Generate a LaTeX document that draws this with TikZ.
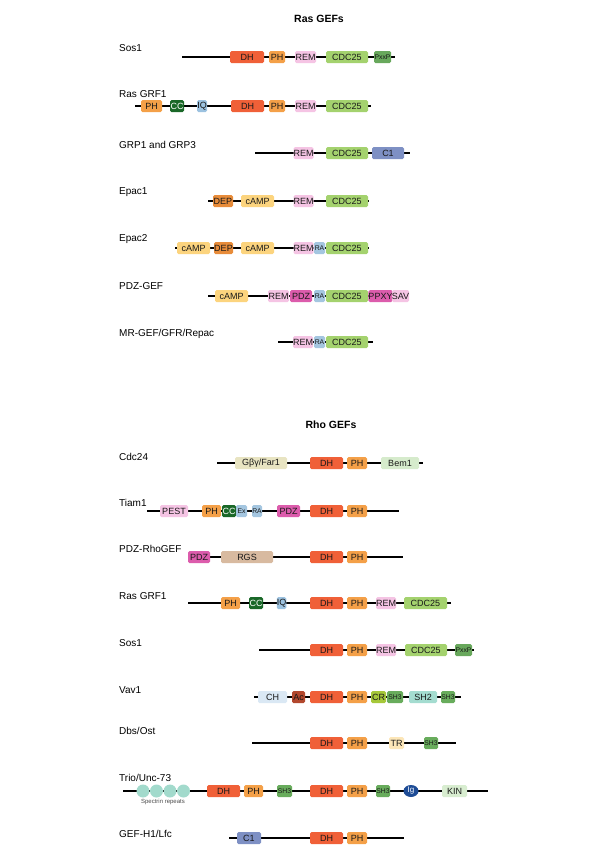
\documentclass[tikz,border=0pt]{standalone}
\usepackage{fontspec}
\setmainfont{Liberation Sans}
\usetikzlibrary{shapes.geometric}
\definecolor{cDH}{RGB}{240,96,56}
\definecolor{cPH}{RGB}{244,160,72}
\definecolor{cREM}{RGB}{245,196,228}
\definecolor{cCDC}{RGB}{164,210,110}
\definecolor{cPxxP}{RGB}{104,168,92}
\definecolor{cCC}{RGB}{26,104,40}
\definecolor{cIQ}{RGB}{156,194,224}
\definecolor{cC1}{RGB}{126,144,196}
\definecolor{cDEP}{RGB}{232,140,58}
\definecolor{cAMP}{RGB}{252,212,126}
\definecolor{cRA}{RGB}{164,198,224}
\definecolor{cPDZ}{RGB}{220,92,172}
\definecolor{cGby}{RGB}{232,228,194}
\definecolor{cBem}{RGB}{214,235,204}
\definecolor{cRGS}{RGB}{216,186,160}
\definecolor{cCH}{RGB}{218,232,244}
\definecolor{cAc}{RGB}{178,72,46}
\definecolor{cCR}{RGB}{166,200,58}
\definecolor{cSH}{RGB}{104,172,92}
\definecolor{cSHt}{RGB}{164,220,208}
\definecolor{cTR}{RGB}{252,230,184}
\definecolor{cIg}{RGB}{30,76,150}
\definecolor{cKIN}{RGB}{216,237,208}
\definecolor{cSpec}{RGB}{162,218,204}
\tikzset{
  dombox/.style={rectangle, rounded corners=1.5pt, inner sep=0pt, minimum height=12pt,
    font=\fontsize{9}{10}\selectfont, text=black!90},
  sm/.style={font=\fontsize{6.8}{7}\selectfont},
  wt/.style={text=white},
  backbone/.style={line width=1.1pt, black},
  glabel/.style={anchor=west, font=\fontsize{10}{12}\selectfont, inner sep=0pt},
  ttl/.style={font=\bfseries\fontsize{10.5}{12}\selectfont, inner sep=0pt},
  specbead/.style={circle, fill=cSpec, minimum size=13pt, inner sep=0pt}
}
% name, x1, x2, y, colour, extra style, text
\newcommand\dm[7]{\node[dombox,fill=#5,minimum width={(#3-#2)*1pt},#6] (#1) at ({(#2+#3)/2},#4) {#7};}
\newcommand\bb[4]{\coordinate (#1s) at (#2,#4); \coordinate (#1e) at (#3,#4); \draw[backbone] (#1s) -- (#1e);}
\begin{document}
\begin{tikzpicture}[x=1pt,y=-1pt]
\fill[white] (0,0) rectangle (600,860);
\useasboundingbox (0,0) rectangle (600,860);

\node[ttl] (t1) at (319,19) {Ras GEFs};

% Sos1
\node[glabel] (l1) at (119,48) {Sos1};
\bb{r1}{182}{395}{57}
\dm{r1a}{230}{264}{57}{cDH}{}{DH}
\dm{r1b}{269}{285}{57}{cPH}{}{PH}
\dm{r1c}{295}{316}{57}{cREM}{}{REM}
\dm{r1d}{326}{368}{57}{cCDC}{}{CDC25}
\dm{r1f}{374}{391}{57}{cPxxP}{sm}{PxxP}

% Ras GRF1
\node[glabel] (l2) at (119,94) {Ras GRF1};
\bb{r2}{135}{371}{106}
\dm{r2a}{141}{162}{106}{cPH}{}{PH}
\dm{r2b}{170}{184}{106}{cCC}{wt}{CC}
\dm{r2c}{197}{207}{106}{cIQ}{}{IQ}
\dm{r2d}{231}{264}{106}{cDH}{}{DH}
\dm{r2f}{269}{285}{106}{cPH}{}{PH}
\dm{r2g}{295}{316}{106}{cREM}{}{REM}
\dm{r2h}{326}{368}{106}{cCDC}{}{CDC25}

% GRP1 and GRP3
\node[glabel] (l3) at (119,145) {GRP1 and GRP3};
\bb{r3}{255}{410}{153}
\dm{r3a}{294}{313}{153}{cREM}{}{REM}
\dm{r3b}{326}{368}{153}{cCDC}{}{CDC25}
\dm{r3c}{372}{404}{153}{cC1}{}{C1}

% Epac1
\node[glabel] (l4) at (119,192) {Epac1};
\bb{r4}{208}{369}{201}
\dm{r4a}{213}{233}{201}{cDEP}{}{DEP}
\dm{r4b}{241}{274}{201}{cAMP}{}{cAMP}
\dm{r4c}{294}{313}{201}{cREM}{}{REM}
\dm{r4d}{326}{368}{201}{cCDC}{}{CDC25}

% Epac2
\node[glabel] (l5) at (119,239) {Epac2};
\bb{r5}{175}{369}{248}
\dm{r5a}{177}{210}{248}{cAMP}{}{cAMP}
\dm{r5b}{214}{233}{248}{cDEP}{}{DEP}
\dm{r5c}{241}{274}{248}{cAMP}{}{cAMP}
\dm{r5d}{294}{313}{248}{cREM}{}{REM}
\dm{r5f}{314}{325}{248}{cRA}{sm}{RA}
\dm{r5g}{326}{368}{248}{cCDC}{}{CDC25}

% PDZ-GEF
\node[glabel] (l6) at (119,286) {PDZ-GEF};
\bb{r6}{208}{392}{296}
\dm{r6a}{215}{248}{296}{cAMP}{}{cAMP}
\dm{r6b}{268}{289}{296}{cREM}{}{REM}
\dm{r6c}{290}{312}{296}{cPDZ}{}{PDZ}
\dm{r6d}{314}{325}{296}{cRA}{sm}{RA}
\dm{r6f}{326}{368}{296}{cCDC}{}{CDC25}
\dm{r6g}{369}{392}{296}{cPDZ}{}{PPXY}
\dm{r6h}{392}{409}{296}{cREM}{}{SAV}

% MR-GEF/GFR/Repac
\node[glabel] (l7) at (119,334) {MR-GEF/GFR/Repac};
\bb{r7}{278}{373}{342}
\dm{r7a}{293}{313}{342}{cREM}{}{REM}
\dm{r7b}{314}{325}{342}{cRA}{sm}{RA}
\dm{r7c}{326}{368}{342}{cCDC}{}{CDC25}

\node[ttl] (t2) at (331,425) {Rho GEFs};

% Cdc24
\node[glabel] (l8) at (119,457) {Cdc24};
\bb{r8}{217}{423}{463}
\dm{r8a}{235}{287}{463}{cGby}{}{Gβγ/Far1}
\dm{r8b}{310}{343}{463}{cDH}{}{DH}
\dm{r8c}{347}{367}{463}{cPH}{}{PH}
\dm{r8d}{381}{419}{463}{cBem}{}{Bem1}

% Tiam1
\node[glabel] (l9) at (119,503) {Tiam1};
\bb{r9}{147}{399}{511}
\dm{r9a}{160}{188}{511}{cREM}{}{PEST}
\dm{r9b}{202}{221}{511}{cPH}{}{PH}
\dm{r9c}{222}{236}{511}{cCC}{wt}{CC}
\dm{r9d}{236}{247}{511}{cRA}{sm}{Ex}
\dm{r9f}{252}{262}{511}{cRA}{sm}{RA}
\dm{r9g}{277}{300}{511}{cPDZ}{}{PDZ}
\dm{r9h}{310}{343}{511}{cDH}{}{DH}
\dm{r9i}{347}{367}{511}{cPH}{}{PH}

% PDZ-RhoGEF
\node[glabel] (l10) at (119,549) {PDZ-RhoGEF};
\bb{r10}{188}{403}{557}
\dm{r10a}{188}{210}{557}{cPDZ}{}{PDZ}
\dm{r10b}{221}{273}{557}{cRGS}{}{RGS}
\dm{r10c}{310}{343}{557}{cDH}{}{DH}
\dm{r10d}{347}{367}{557}{cPH}{}{PH}

% Ras GRF1 (Rho)
\node[glabel] (l11) at (119,596) {Ras GRF1};
\bb{r11}{188}{451}{603}
\dm{r11a}{221}{240}{603}{cPH}{}{PH}
\dm{r11b}{249}{263}{603}{cCC}{wt}{CC}
\dm{r11c}{277}{286}{603}{cIQ}{}{IQ}
\dm{r11d}{310}{343}{603}{cDH}{}{DH}
\dm{r11f}{347}{367}{603}{cPH}{}{PH}
\dm{r11g}{376}{396}{603}{cREM}{}{REM}
\dm{r11h}{404}{447}{603}{cCDC}{}{CDC25}

% Sos1 (Rho)
\node[glabel] (l12) at (119,643) {Sos1};
\bb{r12}{259}{474}{650}
\dm{r12a}{310}{343}{650}{cDH}{}{DH}
\dm{r12b}{347}{367}{650}{cPH}{}{PH}
\dm{r12c}{376}{396}{650}{cREM}{}{REM}
\dm{r12d}{405}{447}{650}{cCDC}{}{CDC25}
\dm{r12f}{455}{472}{650}{cPxxP}{sm}{PxxP}

% Vav1
\node[glabel] (l13) at (119,690) {Vav1};
\bb{r13}{254}{461}{697}
\dm{r13a}{258}{287}{697}{cCH}{}{CH}
\dm{r13b}{292}{305}{697}{cAc}{}{Ac}
\dm{r13c}{310}{343}{697}{cDH}{}{DH}
\dm{r13d}{347}{367}{697}{cPH}{}{PH}
\dm{r13f}{371}{386}{697}{cCR}{}{CR}
\dm{r13g}{387}{403}{697}{cSH}{sm}{SH3}
\dm{r13h}{409}{437}{697}{cSHt}{}{SH2}
\dm{r13i}{441}{455}{697}{cSH}{sm}{SH3}

% Dbs/Ost
\node[glabel] (l14) at (119,731) {Dbs/Ost};
\bb{r14}{252}{456}{743}
\dm{r14a}{310}{343}{743}{cDH}{}{DH}
\dm{r14b}{347}{367}{743}{cPH}{}{PH}
\dm{r14c}{389}{404}{743}{cTR}{}{TR}
\dm{r14d}{424}{438}{743}{cSH}{sm}{SH3}

% Trio/Unc-73
\node[glabel] (l15) at (119,778) {Trio/Unc-73};
\bb{r15}{123}{488}{791}
\node[specbead] (r15s1) at (143,791) {};
\node[specbead] (r15s2) at (156.5,791) {};
\node[specbead] (r15s3) at (170,791) {};
\node[specbead] (r15s4) at (183.5,791) {};
\node[font=\fontsize{6}{7}\selectfont, text=black!70, inner sep=0pt] (r15t) at (163,802) {Spectrin repeats};
\dm{r15a}{207}{240}{791}{cDH}{}{DH}
\dm{r15b}{244}{263}{791}{cPH}{}{PH}
\dm{r15c}{277}{292}{791}{cSH}{sm}{SH3}
\dm{r15d}{310}{343}{791}{cDH}{}{DH}
\dm{r15f}{347}{367}{791}{cPH}{}{PH}
\dm{r15g}{376}{390}{791}{cSH}{sm}{SH3}
\node[ellipse, fill=cIg, minimum width=15pt, minimum height=12pt, inner sep=0pt, text=white, font=\fontsize{8}{9}\selectfont] (r15h) at (411,791) {Ig};
\dm{r15i}{442}{467}{791}{cKIN}{}{KIN}

% GEF-H1/Lfc
\node[glabel] (l16) at (119,834) {GEF-H1/Lfc};
\bb{r16}{229}{404}{838}
\dm{r16a}{237}{261}{838}{cC1}{}{C1}
\dm{r16b}{310}{343}{838}{cDH}{}{DH}
\dm{r16c}{347}{367}{838}{cPH}{}{PH}
\end{tikzpicture}
\end{document}
